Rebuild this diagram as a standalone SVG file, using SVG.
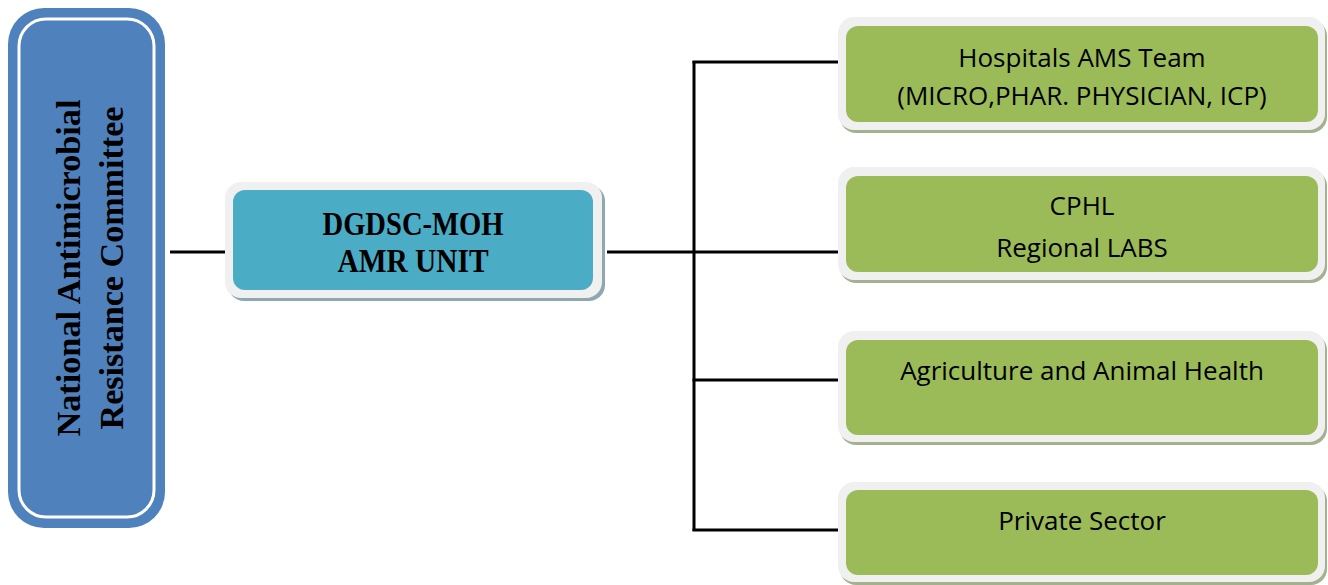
<svg xmlns="http://www.w3.org/2000/svg" width="1328" height="585" viewBox="0 0 1328 585">
<style>
.conn{stroke:#000;stroke-width:3;fill:none}
.frame{fill:#F0F0F0}
.gshadow{fill:#A3B18F}
.tshadow{fill:#8EA8B2}
.green{fill:#9BBB59}
.teal{fill:#4BACC6}
.serif{font-family:"Liberation Serif",serif;font-weight:bold;fill:#000}
.sans{font-family:"Open Sans","Liberation Sans",sans-serif;fill:#000;font-size:26px}
</style>
<rect width="1328" height="585" fill="#fff"/>
<g id="connectors">
<line class="conn" x1="170" y1="252" x2="228" y2="252"/>
<line class="conn" x1="607" y1="252" x2="847" y2="252"/>
<line class="conn" x1="694" y1="61" x2="694" y2="531"/>
<line class="conn" x1="692.5" y1="62" x2="847" y2="62"/>
<line class="conn" x1="692.5" y1="380" x2="847" y2="380"/>
<line class="conn" x1="692.5" y1="530" x2="847" y2="530"/>
</g>
<g id="national">
<rect x="8" y="8" width="157" height="520" rx="36" fill="#4F81BD"/>
<rect x="19" y="19" width="135" height="498" rx="27" fill="#4F81BD" stroke="#fff" stroke-width="3"/>
<g transform="translate(0,268) rotate(-90)">
<text class="serif" x="0" y="80" font-size="34" text-anchor="middle" textLength="337" lengthAdjust="spacingAndGlyphs">National Antimicrobial</text>
<text class="serif" x="0" y="123" font-size="34" text-anchor="middle" textLength="323" lengthAdjust="spacingAndGlyphs">Resistance Committee</text>
</g>
</g>
<g id="dgdsc">
<rect class="tshadow" x="228" y="185" width="377" height="116" rx="16"/>
<rect class="frame" x="225" y="182" width="377" height="116" rx="16"/>
<rect class="teal" x="233" y="190" width="360" height="100" rx="12"/>
<text class="serif" x="413" y="235" font-size="33" text-anchor="middle" textLength="181" lengthAdjust="spacingAndGlyphs">DGDSC-MOH</text>
<text class="serif" x="413" y="272" font-size="33" text-anchor="middle" textLength="151" lengthAdjust="spacingAndGlyphs">AMR UNIT</text>
</g>
<g id="hospitals">
<rect class="gshadow" x="840" y="20" width="487" height="113" rx="16"/>
<rect class="frame" x="838" y="17" width="487" height="113" rx="16"/>
<rect class="green" x="846" y="26" width="472" height="96" rx="12"/>
<text class="sans" x="1082" y="67" text-anchor="middle">Hospitals AMS Team</text>
<text class="sans" x="1082" y="105" text-anchor="middle">(MICRO,PHAR. PHYSICIAN, ICP)</text>
</g>
<g id="cphl">
<rect class="gshadow" x="840" y="170" width="487" height="113" rx="16"/>
<rect class="frame" x="838" y="167" width="487" height="113" rx="16"/>
<rect class="green" x="846" y="176" width="472" height="96" rx="12"/>
<text class="sans" x="1082" y="215" text-anchor="middle">CPHL</text>
<text class="sans" x="1082" y="257" text-anchor="middle">Regional LABS</text>
</g>
<g id="agriculture">
<rect class="gshadow" x="840" y="334" width="487" height="111" rx="16"/>
<rect class="frame" x="838" y="331" width="487" height="111" rx="16"/>
<rect class="green" x="846" y="340" width="472" height="95" rx="12"/>
<text class="sans" x="1082" y="380" text-anchor="middle">Agriculture and Animal Health</text>
</g>
<g id="private">
<rect class="gshadow" x="840" y="485" width="487" height="100" rx="16"/>
<rect class="frame" x="838" y="482" width="487" height="100" rx="16"/>
<rect class="green" x="846" y="490" width="472" height="85" rx="12"/>
<text class="sans" x="1082" y="530" text-anchor="middle">Private Sector</text>
</g>
</svg>
